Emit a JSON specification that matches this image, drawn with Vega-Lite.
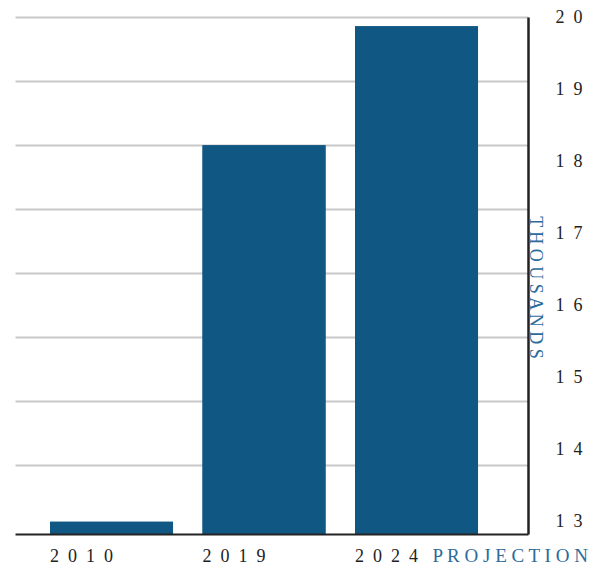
{
  "$schema": "https://vega.github.io/schema/vega-lite/v6.json",
  "width": 513,
  "height": 517,
  "autosize": {"type": "none"},
  "padding": {"left": 15, "top": 17, "right": 76, "bottom": 37},
  "data": {
    "values": [
      {"year": "2010", "value": 13.0},
      {"year": "2019", "value": 18.22},
      {"year": "2024", "value": 19.87}
    ]
  },
  "encoding": {
    "x": {
      "field": "year",
      "type": "nominal",
      "sort": null,
      "scale": {"paddingInner": 0.1934, "paddingOuter": 0.2787, "align": 0.412},
      "axis": {
        "orient": "bottom",
        "zindex": 1,
        "title": "P R O J E C T I O N",
        "titleX": 417,
        "titleY": 27,
        "titleAlign": "left",
        "titleAnchor": "start",
        "titleBaseline": "alphabetic",
        "titleFont": "Liberation Serif",
        "titleFontSize": 19,
        "titleFontWeight": "normal",
        "titleColor": "#2b6b9b",
        "labelAlign": "left",
        "labelOffset": -61.5,
        "labelBaseline": "alphabetic",
        "labelPadding": 27,
        "labelAngle": 0,
        "labelFont": "Liberation Serif",
        "labelFontSize": 18,
        "labelColor": "#222222",
        "labelExpr": "join(split(datum.label, ''), '\u2002')",
        "ticks": false,
        "grid": false,
        "domainColor": "#222222",
        "domainWidth": 2
      }
    }
  },
  "layer": [
    {
      "mark": {"type": "bar", "color": "#105783"},
      "encoding": {
        "y": {
          "field": "value",
          "type": "quantitative",
          "scale": {"domain": [12.83, 20], "zero": false, "nice": false, "clamp": true},
          "axis": {
            "orient": "right",
            "zindex": 0,
            "values": [20, 19.1125, 18.225, 17.3375, 16.45, 15.5625, 14.675, 13.7875],
            "labels": false,
            "ticks": false,
            "domain": false,
            "grid": true,
            "gridColor": "#c8c8c8",
            "gridWidth": 2,
            "title": null
          }
        }
      }
    },
    {
      "mark": {"type": "bar", "color": "#105783"},
      "encoding": {
        "y": {
          "field": "value",
          "type": "quantitative",
          "scale": {"domain": [12.83, 20], "zero": false, "nice": false, "clamp": true},
          "axis": {
            "orient": "right",
            "zindex": 1,
            "values": [20, 19, 18, 17, 16, 15, 14, 13],
            "format": "d",
            "labelExpr": "join(split(datum.label, ''), '\u2002')",
            "labelOverlap": false,
            "labelPadding": 27,
            "labelAlign": "left",
            "labelFont": "Liberation Serif",
            "labelFontSize": 18,
            "labelColor": "#222222",
            "ticks": false,
            "grid": false,
            "domainColor": "#222222",
            "domainWidth": 2.5,
            "title": "T H O U S A N D S",
            "titleAngle": 90,
            "titleX": 1,
            "titleY": 270,
            "titleAlign": "center",
            "titleBaseline": "alphabetic",
            "titleFont": "Liberation Serif",
            "titleFontSize": 18,
            "titleFontWeight": "normal",
            "titleColor": "#2b6b9b"
          }
        }
      }
    }
  ],
  "resolve": {"axis": {"y": "independent"}},
  "config": {"view": {"stroke": null}}
}
